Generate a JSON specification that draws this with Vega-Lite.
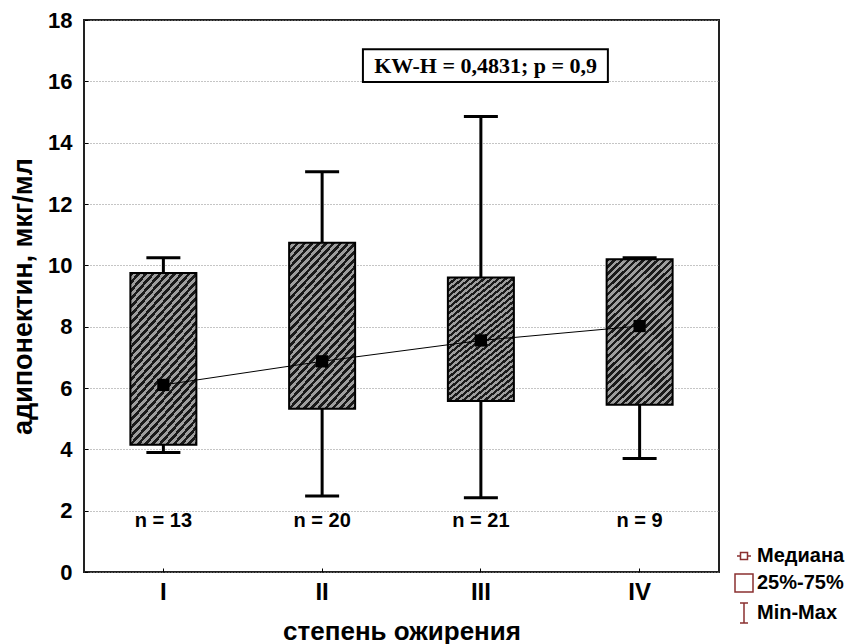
{
  "$schema": "https://vega.github.io/schema/vega-lite/v6.json",
  "autosize": {"type": "none"},
  "padding": {"left": 84, "top": 20, "right": 137, "bottom": 72},
  "width": 635,
  "height": 552,
  "background": "#ffffff",
  "config": {
    "view": {"stroke": "#222222", "strokeWidth": 2},
    "axis": {"labelFont": "Liberation Sans", "labelFontWeight": "bold", "labelColor": "#000000", "titleFont": "Liberation Sans", "titleFontWeight": "bold", "titleColor": "#000000", "domain": false, "tickColor": "#000000"},
    "legend": {"orient": "none", "legendX": 649, "legendY": 525, "labelFont": "Liberation Sans", "labelFontWeight": "bold", "labelFontSize": 20, "labelColor": "#000000", "symbolSize": 400, "symbolStrokeColor": "#8b3030", "symbolFillColor": "transparent", "symbolStrokeWidth": 1.5, "symbolOpacity": 1, "rowPadding": 5, "labelOffset": 2}
  },
  "datasets": {
    "boxes": [
      {"grade": "I", "min": 3.9, "q1": 4.15, "median": 6.1, "q3": 9.75, "max": 10.25, "n": "n = 13"},
      {"grade": "II", "min": 2.48, "q1": 5.32, "median": 6.87, "q3": 10.74, "max": 13.05, "n": "n = 20"},
      {"grade": "III", "min": 2.42, "q1": 5.58, "median": 7.55, "q3": 9.6, "max": 14.85, "n": "n = 21"},
      {"grade": "IV", "min": 3.7, "q1": 5.45, "median": 8.02, "q3": 10.2, "max": 10.25, "n": "n = 9"}
    ],
    "legendItems": [{"leg": "Медиана"}, {"leg": "25%-75%"}, {"leg": "Min-Max"}],
    "stat": [{"label": "KW-H = 0,4831; p = 0,9"}]
  },
  "resolve": {"scale": {"x": "independent"}},
  "layer": [
    {
      "data": {"name": "boxes"},
      "encoding": {
        "x": {"field": "grade", "type": "nominal", "sort": ["I", "II", "III", "IV"],
          "scale": {"type": "band", "paddingInner": 0, "paddingOuter": 0},
          "axis": {"labelAngle": 0, "labelFontSize": 24, "labelPadding": 12, "tickSize": -4, "title": "степень ожирения", "titleFontSize": 26, "titlePadding": 14}}
      },
      "layer": [
        {
          "mark": {"type": "rule", "color": "#000000", "strokeWidth": 3},
          "encoding": {
            "y": {"field": "min", "type": "quantitative", "scale": {"domain": [0, 18], "nice": false},
              "axis": {"values": [0, 2, 4, 6, 8, 10, 12, 14, 16, 18], "labelFontSize": 22, "labelPadding": 16, "tickSize": -4, "grid": true, "gridDash": [1, 2], "gridColor": "#8a8a8a", "gridWidth": 1, "title": "адипонектин, мкг/мл", "titleFontSize": 27, "titlePadding": 10}},
            "y2": {"field": "max"}
          }
        },
        {
          "mark": {"type": "tick", "color": "#000000", "size": 34, "thickness": 3, "orient": "horizontal", "opacity": 1},
          "encoding": {"y": {"field": "min", "type": "quantitative"}}
        },
        {
          "mark": {"type": "tick", "color": "#000000", "size": 34, "thickness": 3, "orient": "horizontal", "opacity": 1},
          "encoding": {"y": {"field": "max", "type": "quantitative"}}
        },
        {
          "mark": {"type": "bar", "size": 66, "stroke": "#000000", "strokeWidth": 2, "opacity": 1,
            "fill": {"gradient": "linear", "x1": 0, "y1": 0, "x2": 0.55, "y2": 1.27, "stops": [
              {"offset": 0, "color": "#1a1a1a"}, {"offset": 0.015625, "color": "#1a1a1a"}, {"offset": 0.015625, "color": "#9e9e9e"}, {"offset": 0.03125, "color": "#9e9e9e"},
              {"offset": 0.03125, "color": "#1a1a1a"}, {"offset": 0.046875, "color": "#1a1a1a"}, {"offset": 0.046875, "color": "#9e9e9e"}, {"offset": 0.0625, "color": "#9e9e9e"},
              {"offset": 0.0625, "color": "#1a1a1a"}, {"offset": 0.078125, "color": "#1a1a1a"}, {"offset": 0.078125, "color": "#9e9e9e"}, {"offset": 0.09375, "color": "#9e9e9e"},
              {"offset": 0.09375, "color": "#1a1a1a"}, {"offset": 0.109375, "color": "#1a1a1a"}, {"offset": 0.109375, "color": "#9e9e9e"}, {"offset": 0.125, "color": "#9e9e9e"},
              {"offset": 0.125, "color": "#1a1a1a"}, {"offset": 0.140625, "color": "#1a1a1a"}, {"offset": 0.140625, "color": "#9e9e9e"}, {"offset": 0.15625, "color": "#9e9e9e"},
              {"offset": 0.15625, "color": "#1a1a1a"}, {"offset": 0.171875, "color": "#1a1a1a"}, {"offset": 0.171875, "color": "#9e9e9e"}, {"offset": 0.1875, "color": "#9e9e9e"},
              {"offset": 0.1875, "color": "#1a1a1a"}, {"offset": 0.203125, "color": "#1a1a1a"}, {"offset": 0.203125, "color": "#9e9e9e"}, {"offset": 0.21875, "color": "#9e9e9e"},
              {"offset": 0.21875, "color": "#1a1a1a"}, {"offset": 0.234375, "color": "#1a1a1a"}, {"offset": 0.234375, "color": "#9e9e9e"}, {"offset": 0.25, "color": "#9e9e9e"},
              {"offset": 0.25, "color": "#1a1a1a"}, {"offset": 0.265625, "color": "#1a1a1a"}, {"offset": 0.265625, "color": "#9e9e9e"}, {"offset": 0.28125, "color": "#9e9e9e"},
              {"offset": 0.28125, "color": "#1a1a1a"}, {"offset": 0.296875, "color": "#1a1a1a"}, {"offset": 0.296875, "color": "#9e9e9e"}, {"offset": 0.3125, "color": "#9e9e9e"},
              {"offset": 0.3125, "color": "#1a1a1a"}, {"offset": 0.328125, "color": "#1a1a1a"}, {"offset": 0.328125, "color": "#9e9e9e"}, {"offset": 0.34375, "color": "#9e9e9e"},
              {"offset": 0.34375, "color": "#1a1a1a"}, {"offset": 0.359375, "color": "#1a1a1a"}, {"offset": 0.359375, "color": "#9e9e9e"}, {"offset": 0.375, "color": "#9e9e9e"},
              {"offset": 0.375, "color": "#1a1a1a"}, {"offset": 0.390625, "color": "#1a1a1a"}, {"offset": 0.390625, "color": "#9e9e9e"}, {"offset": 0.40625, "color": "#9e9e9e"},
              {"offset": 0.40625, "color": "#1a1a1a"}, {"offset": 0.421875, "color": "#1a1a1a"}, {"offset": 0.421875, "color": "#9e9e9e"}, {"offset": 0.4375, "color": "#9e9e9e"},
              {"offset": 0.4375, "color": "#1a1a1a"}, {"offset": 0.453125, "color": "#1a1a1a"}, {"offset": 0.453125, "color": "#9e9e9e"}, {"offset": 0.46875, "color": "#9e9e9e"},
              {"offset": 0.46875, "color": "#1a1a1a"}, {"offset": 0.484375, "color": "#1a1a1a"}, {"offset": 0.484375, "color": "#9e9e9e"}, {"offset": 0.5, "color": "#9e9e9e"},
              {"offset": 0.5, "color": "#1a1a1a"}, {"offset": 0.515625, "color": "#1a1a1a"}, {"offset": 0.515625, "color": "#9e9e9e"}, {"offset": 0.53125, "color": "#9e9e9e"},
              {"offset": 0.53125, "color": "#1a1a1a"}, {"offset": 0.546875, "color": "#1a1a1a"}, {"offset": 0.546875, "color": "#9e9e9e"}, {"offset": 0.5625, "color": "#9e9e9e"},
              {"offset": 0.5625, "color": "#1a1a1a"}, {"offset": 0.578125, "color": "#1a1a1a"}, {"offset": 0.578125, "color": "#9e9e9e"}, {"offset": 0.59375, "color": "#9e9e9e"},
              {"offset": 0.59375, "color": "#1a1a1a"}, {"offset": 0.609375, "color": "#1a1a1a"}, {"offset": 0.609375, "color": "#9e9e9e"}, {"offset": 0.625, "color": "#9e9e9e"},
              {"offset": 0.625, "color": "#1a1a1a"}, {"offset": 0.640625, "color": "#1a1a1a"}, {"offset": 0.640625, "color": "#9e9e9e"}, {"offset": 0.65625, "color": "#9e9e9e"},
              {"offset": 0.65625, "color": "#1a1a1a"}, {"offset": 0.671875, "color": "#1a1a1a"}, {"offset": 0.671875, "color": "#9e9e9e"}, {"offset": 0.6875, "color": "#9e9e9e"},
              {"offset": 0.6875, "color": "#1a1a1a"}, {"offset": 0.703125, "color": "#1a1a1a"}, {"offset": 0.703125, "color": "#9e9e9e"}, {"offset": 0.71875, "color": "#9e9e9e"},
              {"offset": 0.71875, "color": "#1a1a1a"}, {"offset": 0.734375, "color": "#1a1a1a"}, {"offset": 0.734375, "color": "#9e9e9e"}, {"offset": 0.75, "color": "#9e9e9e"},
              {"offset": 0.75, "color": "#1a1a1a"}, {"offset": 0.765625, "color": "#1a1a1a"}, {"offset": 0.765625, "color": "#9e9e9e"}, {"offset": 0.78125, "color": "#9e9e9e"},
              {"offset": 0.78125, "color": "#1a1a1a"}, {"offset": 0.796875, "color": "#1a1a1a"}, {"offset": 0.796875, "color": "#9e9e9e"}, {"offset": 0.8125, "color": "#9e9e9e"},
              {"offset": 0.8125, "color": "#1a1a1a"}, {"offset": 0.828125, "color": "#1a1a1a"}, {"offset": 0.828125, "color": "#9e9e9e"}, {"offset": 0.84375, "color": "#9e9e9e"},
              {"offset": 0.84375, "color": "#1a1a1a"}, {"offset": 0.859375, "color": "#1a1a1a"}, {"offset": 0.859375, "color": "#9e9e9e"}, {"offset": 0.875, "color": "#9e9e9e"},
              {"offset": 0.875, "color": "#1a1a1a"}, {"offset": 0.890625, "color": "#1a1a1a"}, {"offset": 0.890625, "color": "#9e9e9e"}, {"offset": 0.90625, "color": "#9e9e9e"},
              {"offset": 0.90625, "color": "#1a1a1a"}, {"offset": 0.921875, "color": "#1a1a1a"}, {"offset": 0.921875, "color": "#9e9e9e"}, {"offset": 0.9375, "color": "#9e9e9e"},
              {"offset": 0.9375, "color": "#1a1a1a"}, {"offset": 0.953125, "color": "#1a1a1a"}, {"offset": 0.953125, "color": "#9e9e9e"}, {"offset": 0.96875, "color": "#9e9e9e"},
              {"offset": 0.96875, "color": "#1a1a1a"}, {"offset": 0.984375, "color": "#1a1a1a"}, {"offset": 0.984375, "color": "#9e9e9e"}, {"offset": 1, "color": "#9e9e9e"}
            ]}},
          "encoding": {"y": {"field": "q1", "type": "quantitative"}, "y2": {"field": "q3"}}
        },
        {
          "mark": {"type": "line", "color": "#000000", "strokeWidth": 1},
          "encoding": {"y": {"field": "median", "type": "quantitative"}}
        },
        {
          "mark": {"type": "point", "shape": "square", "filled": true, "color": "#000000", "size": 150, "opacity": 1},
          "encoding": {"y": {"field": "median", "type": "quantitative"}}
        },
        {
          "mark": {"type": "text", "font": "Liberation Sans", "fontWeight": "bold", "fontSize": 20, "color": "#000000", "baseline": "middle", "align": "center"},
          "encoding": {"y": {"datum": 1.66, "type": "quantitative"}, "text": {"field": "n"}}
        },
        {
          "data": {"name": "legendItems"},
          "mark": {"type": "point", "opacity": 0, "color": "#8b3030"},
          "encoding": {
            "x": {"value": 0},
            "y": {"value": 0},
            "shape": {"field": "leg", "type": "nominal",
              "scale": {"domain": ["Медиана", "25%-75%", "Min-Max"],
                "range": ["M-0.7,0H-0.35M0.35,0H0.7M-0.35,-0.35H0.35V0.35H-0.35Z", "M-0.9,-0.9H0.9V0.9H-0.9Z", "M-0.4,-1H0.4M0,-1V1M-0.4,1H0.4"]},
              "legend": {"title": null}}
          }
        }
      ]
    },
    {
      "data": {"name": "stat"},
      "layer": [
        {
          "mark": {"type": "rect", "fill": "#ffffff", "stroke": "#000000", "strokeWidth": 2},
          "encoding": {
            "x": {"datum": 1.757, "type": "quantitative", "scale": {"domain": [0, 4], "nice": false, "zero": false}, "axis": null},
            "x2": {"datum": 3.3},
            "y": {"datum": 17.05, "type": "quantitative"},
            "y2": {"datum": 15.98}
          }
        },
        {
          "mark": {"type": "text", "font": "Liberation Serif", "fontWeight": "bold", "fontSize": 22, "color": "#000000", "align": "center", "baseline": "middle"},
          "encoding": {
            "x": {"datum": 2.53, "type": "quantitative"},
            "y": {"datum": 16.51, "type": "quantitative"},
            "text": {"field": "label"}
          }
        }
      ]
    }
  ]
}
